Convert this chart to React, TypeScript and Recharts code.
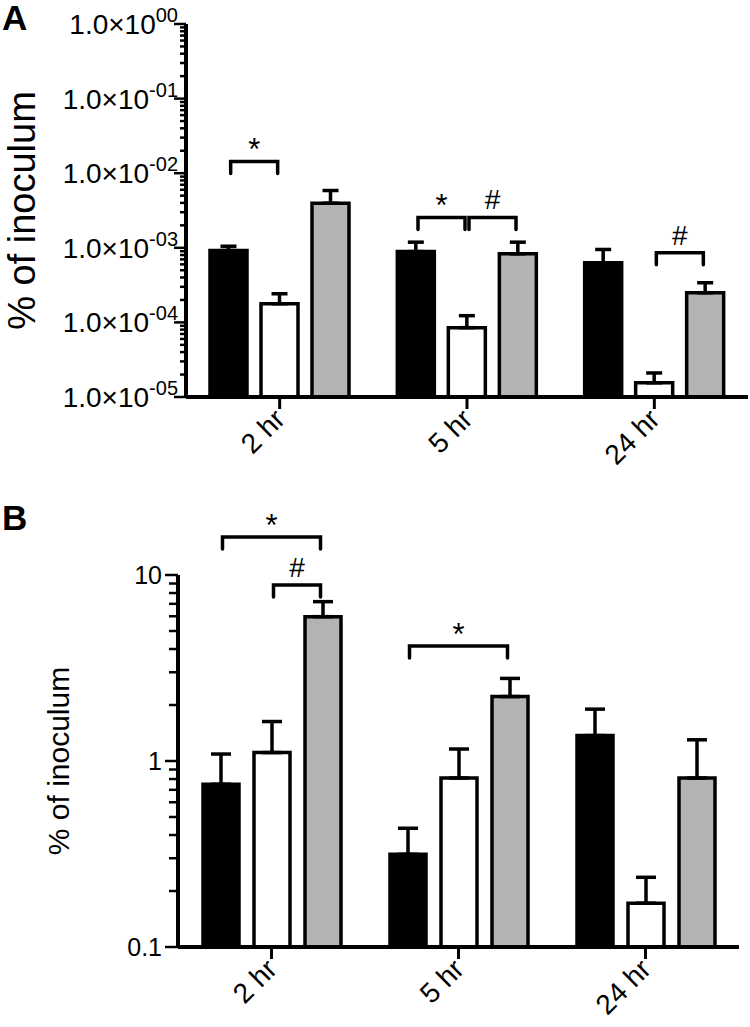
import React from "react";
import { BarChart, Bar, XAxis, YAxis, ErrorBar, ReferenceLine } from "recharts";

const categories = ["2 hr", "5 hr", "24 hr"];

// panel A (log, 1e-5 .. 1)
const aBlack = [9.2e-4, 8.9e-4, 6.3e-4];
const aBlackErr = [1.3e-4, 3.0e-4, 3.2e-4];
const aWhite = [1.78e-4, 8.5e-5, 1.55e-5];
const aWhiteErr = [6.4e-5, 3.8e-5, 5.5e-6];
const aGray = [3.96e-3, 8.3e-4, 2.5e-4];
const aGrayErr = [1.9e-3, 3.6e-4, 9e-5];
const aDecades = [1e-5, 1e-4, 1e-3, 1e-2, 1e-1, 1];

// panel B (log, 0.1 .. 10)
const bBlack = [0.75, 0.315, 1.37];
const bBlackErr = [0.34, 0.12, 0.53];
const bWhite = [1.11, 0.81, 0.172];
const bWhiteErr = [0.52, 0.35, 0.065];
const bGray = [5.97, 2.22, 0.81];
const bGrayErr = [1.22, 0.56, 0.49];
const bDecades = [0.1, 1, 10];

// significance brackets: category, from bar, to bar, height, mark
const aBrackets = [
  { cat: 0, from: 0, to: 1, y: 1.44e-2, mark: "*" },
  { cat: 1, from: 0, to: 1, y: 2.55e-3, mark: "*" },
  { cat: 1, from: 1, to: 2, y: 2.55e-3, mark: "#" },
  { cat: 2, from: 1, to: 2, y: 8.6e-4, mark: "#" },
];
const bBrackets = [
  { cat: 0, from: 0, to: 2, y: 16, mark: "*" },
  { cat: 0, from: 1, to: 2, y: 8.84, mark: "#" },
  { cat: 1, from: 0, to: 2, y: 4.15, mark: "*" },
];

const FONT = '"Liberation Sans", Arial, Helvetica, sans-serif';
const W = 750;

function rows(bl: number[], blE: number[], wh: number[], whE: number[], gr: number[], grE: number[]) {
  return categories.map((name, i) => ({
    name,
    black: bl[i],
    blackErr: [0, blE[i]],
    white: wh[i],
    whiteErr: [0, whE[i]],
    gray: gr[i],
    grayErr: [0, grE[i]],
  }));
}

function logTicks(decades: number[]) {
  const out: number[] = [];
  decades.forEach((d, i) => {
    out.push(d);
    if (i < decades.length - 1) for (let m = 2; m <= 9; m++) out.push(d * m);
  });
  return out;
}

const isMajor = (v: number) => Math.abs(Math.log10(v) - Math.round(Math.log10(v))) < 1e-6;

function SciTick(props: any) {
  const { x, y, payload } = props;
  const v = payload.value;
  const major = isMajor(v);
  const e = Math.round(Math.log10(v));
  const exp = e === 0 ? "00" : (e < 0 ? "-" : "") + String(Math.abs(e)).padStart(2, "0");
  return (
    <g>
      <line x1={x} x2={x - (major ? 12 : 6)} y1={y} y2={y} stroke="#000" strokeWidth={2.5} />
      {major && (
        <text x={x - 8} y={y} dy="0.36em" textAnchor="end" fontSize={28} fontFamily={FONT} fill="#000">
          1.0×10
          <tspan dy={-12} fontSize={20}>{exp}</tspan>
        </text>
      )}
    </g>
  );
}

function PlainLogTick(props: any) {
  const { x, y, payload } = props;
  const v = payload.value;
  const major = isMajor(v);
  return (
    <g>
      <line x1={x} x2={x - (major ? 13 : 9)} y1={y} y2={y} stroke="#000" strokeWidth={2.5} />
      {major && (
        <text x={x - 16} y={y} dy="0.36em" textAnchor="end" fontSize={25} fontFamily={FONT} fill="#000">
          {String(v)}
        </text>
      )}
    </g>
  );
}

function HourTick(props: any) {
  const { x, y, payload } = props;
  const ax = x + 7;
  const ay = y + 24;
  return (
    <g>
      <line x1={x} x2={x} y1={y} y2={y + 12} stroke="#000" strokeWidth={3} />
      <text x={ax} y={ay} textAnchor="end" fontSize={28} fontFamily={FONT} fill="#000" transform={`rotate(-45 ${ax} ${ay})`}>
        {payload.value}
      </text>
    </g>
  );
}

// bracket drawn from the category centre given by the axis, shifted to the bar centres
function Bracket(props: any) {
  const { x1, y1, from, to, step, mark } = props;
  const leg = 12;
  const left = x1 + (from - 1) * step + 2;
  const right = x1 + (to - 1) * step - 2;
  return (
    <g>
      <path
        d={`M${left},${y1 + leg} L${left},${y1} L${right},${y1} L${right},${y1 + leg}`}
        fill="none"
        stroke="#000"
        strokeWidth={3.5}
        strokeLinecap="round"
      />
      <text x={(left + right) / 2} y={mark === "*" ? y1 - 1 : y1 - 8} textAnchor="middle" fontSize={mark === "*" ? 31 : 28} fontFamily={FONT} fill="#000">
        {mark}
      </text>
    </g>
  );
}

function AxisTitle(cx: number, size: number) {
  return (p: any) => {
    const vb = p.viewBox;
    const cy = vb.y + vb.height / 2;
    return (
      <text x={cx} y={cy} textAnchor="middle" dominantBaseline="central" fontSize={size} fontFamily={FONT} fill="#000" transform={`rotate(-90 ${cx} ${cy})`}>
        % of inoculum
      </text>
    );
  };
}

type PanelProps = {
  data: any[];
  height: number;
  top: number;
  right: number;
  yWidth: number;
  xHeight: number;
  domain: [number, number];
  ticks: number[];
  tick: React.ReactElement;
  brackets: typeof aBrackets;
  barSize: number;
  barGap: number;
  capWidth: number;
  titleX: number;
  titleSize: number;
};

function Panel(p: PanelProps) {
  const step = p.barSize + p.barGap;
  const axisStyle = { stroke: "#000", strokeWidth: 4 };
  const series = [
    { key: "black", fill: "#000000" },
    { key: "white", fill: "#ffffff" },
    { key: "gray", fill: "#b3b3b3" },
  ];
  return (
    <BarChart
      width={W}
      height={p.height}
      data={p.data}
      margin={{ top: p.top, right: p.right, left: 0, bottom: 0 }}
      barGap={p.barGap}
    >
      <XAxis
        dataKey="name"
        tickLine={false}
        tickSize={0}
        tickMargin={0}
        axisLine={axisStyle}
        tick={<HourTick />}
        height={p.xHeight}
        interval={0}
      />
      <YAxis
        type="number"
        scale="log"
        domain={p.domain}
        allowDataOverflow
        ticks={p.ticks}
        interval={0}
        tick={p.tick}
        tickLine={false}
        tickSize={0}
        tickMargin={0}
        axisLine={axisStyle}
        width={p.yWidth}
        label={AxisTitle(p.titleX, p.titleSize)}
      />
      {series.map((s) => (
        <Bar
          key={s.key}
          dataKey={s.key}
          fill={s.fill}
          stroke="#000"
          strokeWidth={3.5}
          barSize={p.barSize}
          isAnimationActive={false}
        >
          <ErrorBar dataKey={s.key + "Err"} direction="y" width={p.capWidth} stroke="#000" strokeWidth={3.5} />
        </Bar>
      ))}
      {p.brackets.map((b, i) => (
        <ReferenceLine
          key={i}
          ifOverflow="visible"
          segment={[
            { x: categories[b.cat], y: b.y },
            { x: categories[b.cat], y: b.y },
          ]}
          shape={(sp: any) => <Bracket {...sp} from={b.from} to={b.to} step={step} mark={b.mark} />}
        />
      ))}
    </BarChart>
  );
}

export default function App() {
  const letter = { position: "absolute" as const, left: 2, fontFamily: FONT, fontWeight: 700, fontSize: 35, lineHeight: "36px" };
  return (
    <div style={{ position: "absolute", left: 0, top: 0, width: W, height: 1027, background: "#fff" }}>
      <div style={{ position: "absolute", left: 0, top: 0 }}>
        <Panel
          data={rows(aBlack, aBlackErr, aWhite, aWhiteErr, aGray, aGrayErr)}
          height={490}
          top={24}
          right={2}
          yWidth={186}
          xHeight={93}
          domain={[1e-5, 1]}
          ticks={logTicks(aDecades)}
          tick={<SciTick />}
          brackets={aBrackets}
          barSize={37}
          barGap={14}
          capWidth={8}
          titleX={22}
          titleSize={38}
        />
      </div>
      <div style={{ position: "absolute", left: 0, top: 490 }}>
        <Panel
          data={rows(bBlack, bBlackErr, bWhite, bWhiteErr, bGray, bGrayErr)}
          height={537}
          top={85}
          right={11}
          yWidth={178}
          xHeight={80}
          domain={[0.1, 10]}
          ticks={logTicks(bDecades)}
          tick={<PlainLogTick />}
          brackets={bBrackets}
          barSize={36}
          barGap={15}
          capWidth={10}
          titleX={58}
          titleSize={30}
        />
      </div>
      <div style={{ ...letter, top: 0 }}>A</div>
      <div style={{ ...letter, top: 500 }}>B</div>
    </div>
  );
}
